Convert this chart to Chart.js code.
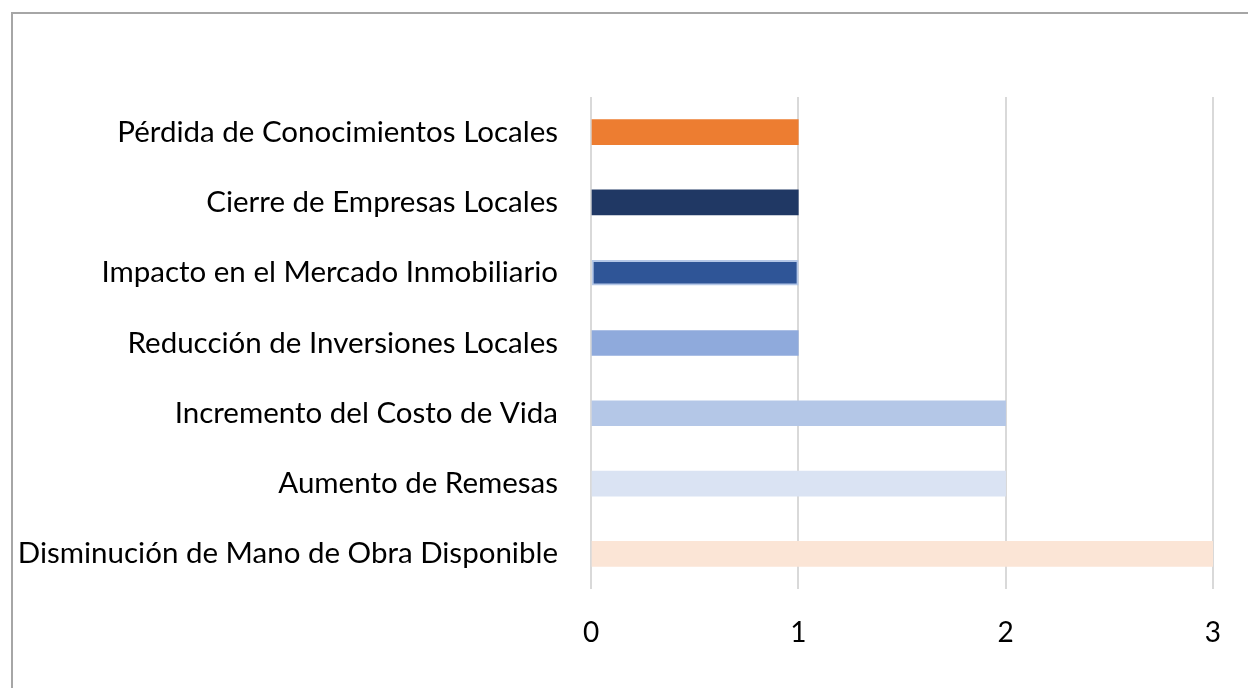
<!DOCTYPE html>
<html>
<head>
<meta charset="utf-8">
<script src="https://cdn.jsdelivr.net/npm/chart.js@4"></script>
<style>
  html, body { margin: 0; padding: 0; background: #fff; }
  #wrap { width: 1248px; height: 688px; position: relative; }
</style>
</head>
<body>
<div id="wrap"><canvas id="chart" width="1248" height="688"></canvas></div>
<script>
  var categories = [
    'Pérdida de Conocimientos Locales',
    'Cierre de Empresas Locales',
    'Impacto en el Mercado Inmobiliario',
    'Reducción de Inversiones Locales',
    'Incremento del Costo de Vida',
    'Aumento de Remesas',
    'Disminución de Mano de Obra Disponible'
  ];
  var values = [1, 1, 1, 1, 2, 2, 3];
  var tickValues = [0, 1, 2, 3];
  var barColors = ['#ED7D31', '#203864', '#2F5597', '#8FAADC', '#B4C7E7', '#DAE3F3', '#FBE5D6'];

  var FONT = 'Lato';

  // frame around the chart, like the exported office chart
  var framePlugin = {
    id: 'frame',
    beforeDraw: function(chart) {
      var ctx = chart.ctx;
      ctx.save();
      ctx.strokeStyle = '#a6a6a6';
      ctx.lineWidth = 2;
      ctx.strokeRect(12, 13, 1260, 700);
      ctx.restore();
    }
  };

  var ctx = document.getElementById('chart').getContext('2d');
  var chart = new Chart(ctx, {
    type: 'bar',
    data: {
      labels: categories,
      datasets: [{
        data: values,
        backgroundColor: barColors,
        borderColor: ['#ED7D31', '#203864', '#B4C7E7', '#8FAADC', '#B4C7E7', '#DAE3F3', '#FBE5D6'],
        borderWidth: [0, 0, 2, 0, 0, 0, 0],
        borderSkipped: false,
        barThickness: 25
      }]
    },
    options: {
      indexAxis: 'y',
      responsive: false,
      animation: false,
      layout: {
        padding: { top: 97, right: 35, left: 0, bottom: 0 }
      },
      plugins: {
        legend: { display: false },
        tooltip: { enabled: false }
      },
      scales: {
        x: {
          min: 0,
          max: 3,
          afterBuildTicks: function(scale) {
            scale.ticks = tickValues.map(function(v) { return { value: v }; });
          },
          afterFit: function(scale) {
            scale.height = 99;
          },
          grid: {
            color: '#d9d9d9',
            lineWidth: 2,
            drawTicks: false
          },
          border: { display: false },
          ticks: {
            color: '#000',
            padding: 27,
            font: { family: FONT, size: 28 }
          }
        },
        y: {
          afterFit: function(scale) {
            scale.width = 591;
          },
          grid: { display: false, drawTicks: false },
          border: { display: false },
          ticks: {
            color: '#000',
            padding: 33,
            font: { family: FONT, size: 29.5 }
          }
        }
      }
    },
    plugins: [framePlugin]
  });
</script>
</body>
</html>
